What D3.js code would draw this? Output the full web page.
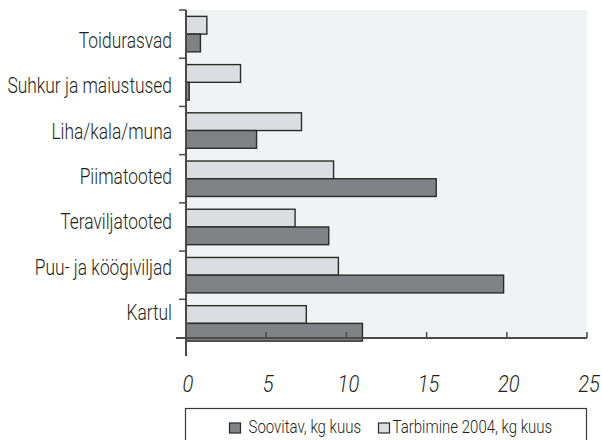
<!DOCTYPE html>
<html>
<head>
<meta charset="utf-8">
<script src="https://cdn.jsdelivr.net/npm/d3@7"></script>
<style>
  body { margin: 0; background: #fff; }
  svg text { font-family: Roboto, "Liberation Sans", sans-serif; font-weight: 300; fill: #231f20; }
</style>
</head>
<body>
<div id="chart"></div>
<script>
// categories top to bottom
const categories = ["Toidurasvad", "Suhkur ja maiustused", "Liha/kala/muna", "Piimatooted",
  "Teraviljatooted", "Puu- ja köögiviljad", "Kartul"]
// Soovitav, kg kuus
const recommended = [0.9, 0.2, 4.4, 15.6, 8.9, 19.8, 11.0]
// Tarbimine 2004, kg kuus
const consumption = [1.3, 3.4, 7.2, 9.2, 6.8, 9.5, 7.5]
const xTicks = [0, 5, 10, 15, 20, 25]
const seriesNames = ["Soovitav, kg kuus", "Tarbimine 2004, kg kuus"]

const WIDTH = 602
const HEIGHT = 440
const DARK = "#818286"
const LIGHT = "#dcdde0"
const STROKE = "#2b2b2b"
const NARROW = 0.79 // squeeze text to look like the condensed face

const svg = d3.select("#chart").append("svg")
  .attr("width", WIDTH)
  .attr("height", HEIGHT)

const plot = { left: 186, right: 587, top: 10, axisY: 338 }

const x = d3.scaleLinear().domain([0, 25]).range([plot.left, plot.right])

// bands run a little past the axis line, like the original
const y = d3.scaleBand().domain(categories).range([plot.top, 347.5])
const sub = d3.scaleBand().domain(["cons", "rec"]).range([0, y.bandwidth()]).paddingOuter(0.36)

// labels sit on their own spacing
const yLabel = d3.scalePoint().domain(categories).range([48, 320])

// plot background
svg.append("rect")
  .attr("x", plot.left)
  .attr("y", plot.top)
  .attr("width", plot.right - plot.left)
  .attr("height", plot.axisY - plot.top)
  .attr("fill", "#f1f2f4")

const rows = svg.selectAll("g.row")
  .data(categories.map((c, i) => ({ cat: c, cons: consumption[i], rec: recommended[i] })))
  .enter().append("g")
  .attr("class", "row")
  .attr("transform", d => `translate(0, ${y(d.cat)})`)

rows.append("rect")
  .attr("x", x(0))
  .attr("y", sub("cons"))
  .attr("width", d => x(d.cons) - x(0))
  .attr("height", sub.bandwidth())
  .attr("fill", LIGHT)
  .attr("stroke", STROKE)
  .attr("stroke-width", 1.4)

rows.append("rect")
  .attr("x", x(0))
  .attr("y", sub("rec"))
  .attr("width", d => x(d.rec) - x(0))
  .attr("height", sub.bandwidth())
  .attr("fill", DARK)
  .attr("stroke", STROKE)
  .attr("stroke-width", 1.4)

// category labels
svg.selectAll("text.cat")
  .data(categories)
  .enter().append("text")
  .attr("class", "cat")
  .attr("transform", d => `translate(172, ${yLabel(d)}) scale(${NARROW}, 1)`)
  .attr("text-anchor", "end")
  .attr("font-size", "22px")
  .text(d => d)

// y axis: line plus ticks at band starts
const axisColor = "#4a4a4a"
svg.append("line")
  .attr("x1", plot.left).attr("x2", plot.left)
  .attr("y1", plot.top).attr("y2", 356)
  .attr("stroke", axisColor).attr("stroke-width", 2)

svg.selectAll("line.ytick")
  .data(categories)
  .enter().append("line")
  .attr("class", "ytick")
  .attr("x1", 179).attr("x2", plot.left)
  .attr("y1", d => y(d)).attr("y2", d => y(d))
  .attr("stroke", axisColor).attr("stroke-width", 1.5)

// x axis
svg.append("line")
  .attr("x1", 176).attr("x2", plot.right)
  .attr("y1", plot.axisY).attr("y2", plot.axisY)
  .attr("stroke", axisColor).attr("stroke-width", 2)

svg.selectAll("line.xtick")
  .data(xTicks.slice(1))
  .enter().append("line")
  .attr("class", "xtick")
  .attr("x1", d => x(d)).attr("x2", d => x(d))
  .attr("y1", plot.axisY - 6).attr("y2", plot.axisY)
  .attr("stroke", axisColor).attr("stroke-width", 1.5)

svg.selectAll("text.xlab")
  .data(xTicks)
  .enter().append("text")
  .attr("class", "xlab")
  .attr("transform", d => `translate(${x(d) + 2}, 392) scale(0.84, 1)`)
  .attr("text-anchor", "middle")
  .attr("font-size", "24px")
  .attr("font-style", "italic")
  .text(d => d)

// legend
svg.append("rect")
  .attr("x", 185.5).attr("y", 408.5)
  .attr("width", 401).attr("height", 40)
  .attr("fill", "#fff")
  .attr("stroke", "#3a3a3a").attr("stroke-width", 1.2)

const legend = svg.selectAll("g.leg")
  .data(seriesNames)
  .enter().append("g")
  .attr("class", "leg")
  .attr("transform", (d, i) => `translate(${i === 0 ? 229.5 : 378.5}, 423)`)

legend.append("rect")
  .attr("width", 11).attr("height", 10)
  .attr("fill", (d, i) => i === 0 ? DARK : LIGHT)
  .attr("stroke", STROKE).attr("stroke-width", 1.2)

legend.append("text")
  .attr("transform", (d, i) => `translate(${i === 0 ? 19 : 14}, 10) scale(0.79, 1)`)
  .attr("font-size", "19px")
  .text(d => d)
</script>
</body>
</html>
